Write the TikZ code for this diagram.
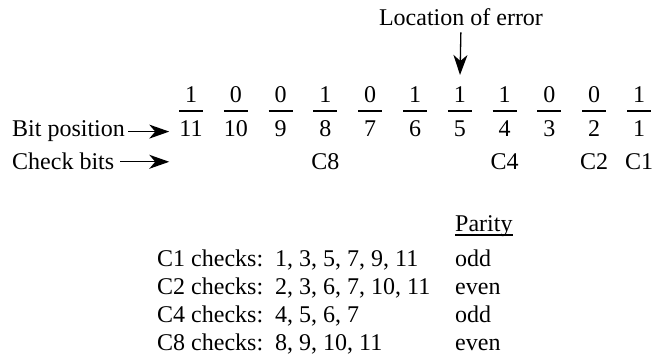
\documentclass[tikz,border=0pt]{standalone}
\usepackage{fontspec}
\setmainfont{Liberation Serif}
\usetikzlibrary{arrows.meta,positioning}
\tikzset{
  >={Stealth[length=20pt,width=14pt,inset=6pt]},
  every node/.style={font=\fontsize{24}{28}\selectfont,inner sep=0pt},
  digit/.style={anchor=base},
  rowlbl/.style={anchor=base west},
  bar/.style={line width=1.1pt},
  arrow/.style={->,line width=1.3pt},
}

\begin{document}
\begin{tikzpicture}[x=1pt,y=-1pt]
\useasboundingbox (0,0) rectangle (654,358);
% bit string and positions
\node[digit] (errlbl) at (461,26) {Location of error};
\foreach \p/\v in {11/1,10/0,9/0,8/1,7/0,6/1,5/1,4/1,3/0,2/0,1/1} {
  \node[digit] (b\p) at ({191+44.8*(11-\p)},103) {\v};
  \draw[bar] ({191+44.8*(11-\p)-12},111) -- ++(24,0);
  \node[digit] (p\p) at ({191+44.8*(11-\p)},137) {\p};
}
\foreach \c in {8,4,2,1}
  \node[digit] (c\c) at (p\c |- 0,170) {C\c};
\node[rowlbl] (bitlbl) at (12,137) {Bit position};
\node[rowlbl] (chklbl) at (12,170) {Check bits};
\draw[arrow,shorten <=3pt,shorten >=10pt] (bitlbl.east) -- (bitlbl.east -| p11.west);
\draw[arrow,shorten <=6pt,shorten >=10pt] (chklbl.east) -- (chklbl.east -| p11.west);
\draw[arrow,shorten <=6pt,shorten >=12pt] (errlbl.south) -- (b5.north);
% parity table
\node[rowlbl] (parity) at (455,232) {Parity};
\draw[bar] ([yshift=-3pt]parity.base west) -- ([yshift=-3pt]parity.base east);
\foreach \c/\lst/\pty [count=\i] in {1/{1, 3, 5, 7, 9, 11}/odd,2/{2, 3, 6, 7, 10, 11}/even,4/{4, 5, 6, 7}/odd,8/{8, 9, 10, 11}/even} {
  \node[rowlbl] (chk\c) at (157,{267+28*(\i-1)}) {C\c{} checks:};
  \node[rowlbl] (bits\c) at (275,{267+28*(\i-1)}) {\lst};
  \node[rowlbl] (pty\c) at (455,{267+28*(\i-1)}) {\pty};
}
\end{tikzpicture}
\end{document}
